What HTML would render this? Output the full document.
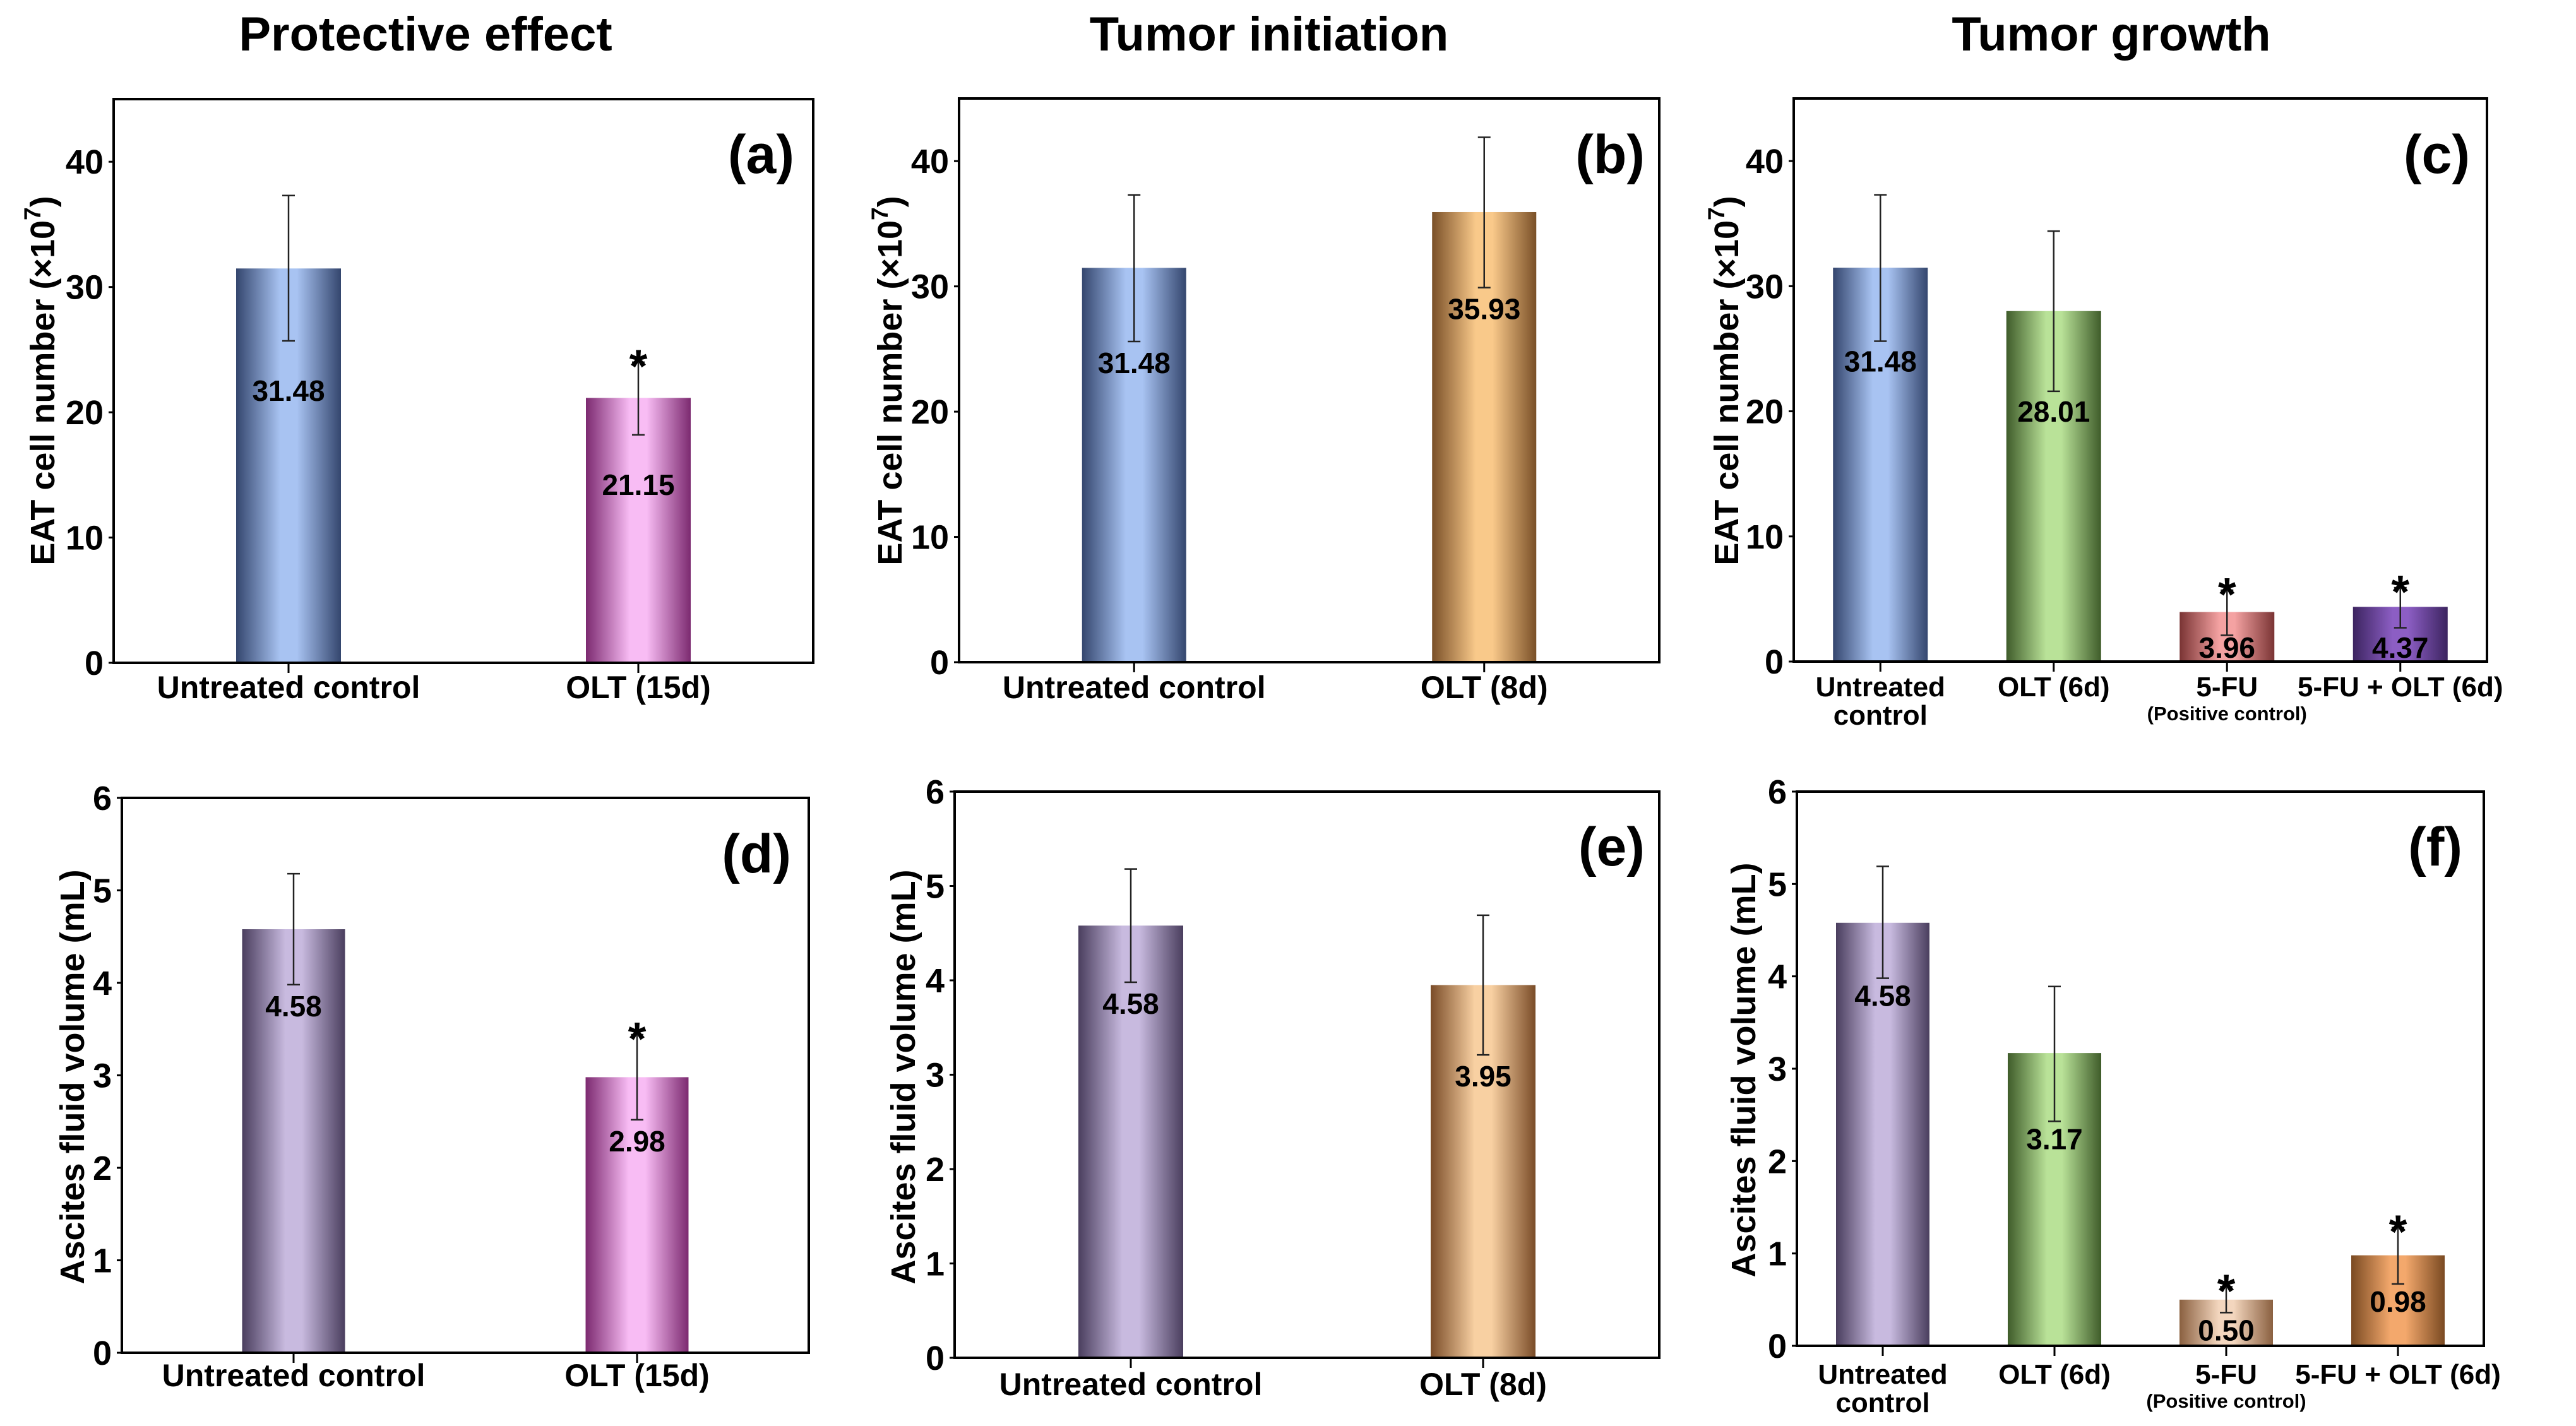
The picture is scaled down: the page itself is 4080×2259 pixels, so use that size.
<!DOCTYPE html>
<html>
<head>
<meta charset="utf-8">
<style>
html,body{margin:0;padding:0;background:#fff;}
svg{display:block;}
text{font-family:"Liberation Sans",sans-serif;font-weight:bold;fill:#000;}
</style>
</head>
<body>
<svg id="fig" width="4080" height="2259" viewBox="0 0 4080 2259" xmlns="http://www.w3.org/2000/svg">
<defs id="defs"></defs>
<text x="674" y="80" font-size="76" text-anchor="middle">Protective effect</text>
<text x="2010" y="80" font-size="76" text-anchor="middle">Tumor initiation</text>
<text x="3344" y="80" font-size="76" text-anchor="middle">Tumor growth</text>
</svg>
<script>
// ---- data ----
const catsA = ["Untreated control", "OLT (15d)"];
const valsA = [31.48, 21.15];
const errLoA = [25.7, 18.2];
const errHiA = [37.3, 24.0];
const sigA = [false, true];

const catsB = ["Untreated control", "OLT (8d)"];
const valsB = [31.48, 35.93];
const errLoB = [25.6, 29.9];
const errHiB = [37.3, 41.9];
const sigB = [false, false];

const catsC = ["Untreated|control", "OLT (6d)", "5-FU", "5-FU + OLT (6d)"];
const valsC = [31.48, 28.01, 3.96, 4.37];
const errLoC = [25.6, 21.6, 2.1, 2.7];
const errHiC = [37.3, 34.4, 5.7, 5.9];
const sigC = [false, false, true, true];

const catsD = ["Untreated control", "OLT (15d)"];
const valsD = [4.58, 2.98];
const errLoD = [3.98, 2.52];
const errHiD = [5.18, 3.44];
const sigD = [false, true];

const catsE = ["Untreated control", "OLT (8d)"];
const valsE = [4.58, 3.95];
const errLoE = [3.98, 3.21];
const errHiE = [5.18, 4.69];
const sigE = [false, false];

const catsF = ["Untreated|control", "OLT (6d)", "5-FU", "5-FU + OLT (6d)"];
const valsF = [4.58, 3.17, 0.50, 0.98];
const errLoF = [3.98, 2.43, 0.36, 0.67];
const errHiF = [5.19, 3.89, 0.64, 1.28];
const sigF = [false, false, true, true];

const ticksTop = [0, 10, 20, 30, 40];
const ticksBottom = [0, 1, 2, 3, 4, 5, 6];

// ---- styles / layout ----
const G = {
  blue:["#34466e","#a8c3f2"], pink:["#7c2a70","#f8bcf4"], orange:["#7a5028","#f9c98a"],
  green:["#3f5c2a","#b9e298"], red:["#7a3434","#f4a2a2"], purple:["#3c2460","#8c5ec4"],
  lav:["#4a3e5e","#c8badf"], peach:["#7a4c28","#f8d0a2"], tan:["#8a6040","#f3d6be"], amber:["#7a4a22","#f3a86c"]
};
const svg = document.getElementById('fig');
const defs = document.getElementById('defs');
const NS = "http://www.w3.org/2000/svg";
Object.keys(G).forEach(k=>{
  const lg=document.createElementNS(NS,'linearGradient');
  lg.setAttribute('id','g-'+k);
  [[0,G[k][0]],[0.42,G[k][1]],[0.58,G[k][1]],[1,G[k][0]]].forEach(([o,c])=>{
    const s=document.createElementNS(NS,'stop');s.setAttribute('offset',o);s.setAttribute('stop-color',c);lg.appendChild(s);
  });
  defs.appendChild(lg);
});
function el(tag, attrs, parent){
  const e=document.createElementNS(NS,tag);
  for(const k in attrs) e.setAttribute(k,attrs[k]);
  (parent||svg).appendChild(e); return e;
}

const panels = [
  {id:'a', cats:catsA, vals:valsA, lo:errLoA, hi:errHiA, sig:sigA, L:180,R:1288,T:157,B:1050,max:45,ticks:ticksTop,bw:166,grads:['blue','pink'],ytitle:'EAT',ytx:66,yty:603,lbl:1258,lblY:274,catY:1106,valOff:95,catFs:50},
  {id:'b', cats:catsB, vals:valsB, lo:errLoB, hi:errHiB, sig:sigB, L:1519,R:2628,T:156,B:1049,max:45,ticks:ticksTop,bw:165,grads:['blue','orange'],ytitle:'EAT',ytx:1408,yty:603,lbl:2605,lblY:274,catY:1106,valOff:50,catFs:50},
  {id:'c', cats:catsC, vals:valsC, lo:errLoC, hi:errHiC, sig:sigC, L:2841,R:3939,T:156,B:1048,max:45,ticks:ticksTop,bw:150,grads:['blue','green','red','purple'],ytitle:'EAT',ytx:2733,yty:603,lbl:3912,lblY:274,catY:1103,valOff:48,catFs:44},
  {id:'d', cats:catsD, vals:valsD, lo:errLoD, hi:errHiD, sig:sigD, L:193,R:1281,T:1264,B:2143,max:6,ticks:ticksBottom,bw:163,grads:['lav','pink'],ytitle:'Asc',ytx:113,yty:1706,lbl:1253,lblY:1382,catY:2196,valOff:50,catFs:50},
  {id:'e', cats:catsE, vals:valsE, lo:errLoE, hi:errHiE, sig:sigE, L:1512,R:2628,T:1254,B:2151,max:6,ticks:ticksBottom,bw:166,grads:['lav','peach'],ytitle:'Asc',ytx:1429,yty:1706,lbl:2605,lblY:1371,catY:2210,valOff:50,catFs:50},
  {id:'f', cats:catsF, vals:valsF, lo:errLoF, hi:errHiF, sig:sigF, L:2846,R:3934,T:1254,B:2132,max:6,ticks:ticksBottom,bw:148,grads:['lav','green','tan','amber'],ytitle:'Asc',ytx:2760,yty:1695,lbl:3900,lblY:1371,catY:2192,valOff:44,catFs:44}
];

panels.forEach(p=>{
  const g=el('g',{});
  
  
  const y=v=>p.B-(v/p.max)*(p.B-p.T);
  const n=p.cats.length;
  const x=i=>p.L+(i+0.5)/n*(p.R-p.L);
  p.vals.forEach((v,i)=>{
    const r=el('rect',{x:x(i)-p.bw/2,y:y(v),width:p.bw,height:p.B-y(v),fill:'url(#g-'+p.grads[i]+')'},g);
    
    
  });
  p.vals.forEach((v,i)=>{
    const eg=el('g',{stroke:'#222','stroke-width':2.5},g);
    
    
    el('line',{x1:x(i),x2:x(i),y1:y(p.lo[i]),y2:y(p.hi[i])},eg);
    el('line',{x1:x(i)-10,x2:x(i)+10,y1:y(p.lo[i]),y2:y(p.lo[i])},eg);
    el('line',{x1:x(i)-10,x2:x(i)+10,y1:y(p.hi[i]),y2:y(p.hi[i])},eg);
    if(p.sig[i]){
      const s=el('text',{x:x(i),y:y(p.hi[i])+32,'font-size':74,'text-anchor':'middle'},g);
      s.textContent='*';
      
      
    }
    let ly=Math.min(y(p.lo[i])+p.valOff, p.B-6);
    const t=el('text',{x:x(i),y:ly,'font-size':46,'text-anchor':'middle'},g);
    t.textContent=v.toFixed(2);
    
    
  });
  const fr=el('rect',{x:p.L,y:p.T,width:p.R-p.L,height:p.B-p.T,fill:'none',stroke:'#000','stroke-width':4},g);
  
  
  p.ticks.forEach(t=>{
    el('line',{x1:p.L-8,x2:p.L,y1:y(t),y2:y(t),stroke:'#000','stroke-width':3},g);
    const tl=el('text',{x:p.L-16,y:y(t)+19,'font-size':54,'text-anchor':'end'},g);
    tl.textContent=t;
    
    
  });
  p.cats.forEach((c,i)=>{
    el('line',{x1:x(i),x2:x(i),y1:p.B,y2:p.B+16,stroke:'#000','stroke-width':3},g);
    const parts=c.split('|');
    parts.forEach((pt,j)=>{
      const ct=el('text',{x:x(i),y:p.catY+j*45,'font-size':p.catFs,'text-anchor':'middle'},g);
      ct.textContent=pt;
      
      
    });
    if(c==='5-FU'){
      const pc=el('text',{x:x(i),y:p.catY+38,'font-size':31,'text-anchor':'middle'},g);
      pc.textContent='(Positive control)';
      
      
    }
  });
  const pl=el('text',{x:p.lbl,y:p.lblY,'font-size':86,'text-anchor':'end'},g);
  pl.textContent='('+p.id+')';
  
  
  const yt=el('text',{x:p.ytx,y:p.yty,'font-size':54,'text-anchor':'middle',transform:'rotate(-90 '+p.ytx+' '+p.yty+')'},g);
  yt.setAttribute('dy','20');
  if(p.ytitle==='EAT'){
    yt.appendChild(document.createTextNode('EAT cell number (×10'));
    const sup=document.createElementNS(NS,'tspan'); sup.setAttribute('dy','-22'); sup.setAttribute('font-size','37'); sup.textContent='7'; yt.appendChild(sup);
    const cl=document.createElementNS(NS,'tspan'); cl.setAttribute('dy','22'); cl.textContent=')'; yt.appendChild(cl);
  } else {
    yt.textContent='Ascites fluid volume (mL)';
  }
  
  
});
</script>
</body>
</html>
